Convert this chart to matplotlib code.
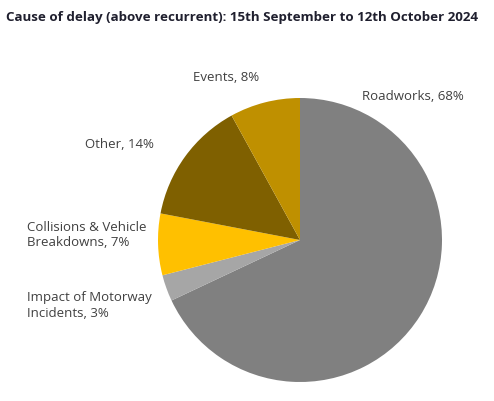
import matplotlib
matplotlib.use("Agg")
import matplotlib.pyplot as plt

# Cause of delay shares (percent), clockwise from 12 o'clock
causes = ['Roadworks', 'Impact of Motorway\nIncidents', 'Collisions & Vehicle\nBreakdowns', 'Other', 'Events']
shares = [68, 3, 7, 14, 8]
colours = ['#808080', '#A6A6A6', '#FFC000', '#7F6000', '#BF9000']

# label anchor (left edge, vertical centre) in pie units
label_pos = [(0.437, 1.014), (-1.923, -0.461), (-1.923, 0.035), (-1.514, 0.676), (-0.754, 1.141)]

plt.rcParams['font.family'] = ['Open Sans', 'DejaVu Sans']

fig = plt.figure(figsize=(4.94, 4.01), dpi=100)
ax = fig.add_axes([0, 0, 1, 1])

ax.pie(shares, colors=colours, startangle=90, counterclock=False, radius=1.0,
       center=(0, 0), wedgeprops=dict(linewidth=0))

for name, val, (x, y) in zip(causes, shares, label_pos):
    ax.text(x, y, '%s, %d%%' % (name, val), ha='left', va='center',
            fontsize=9.5, color='#404040', linespacing=1.25)

ax.set_xlim(-300 / 142.0, 194 / 142.0)
ax.set_ylim(-161 / 142.0, 240 / 142.0)
ax.set_aspect('auto')
ax.axis('off')

fig.text(6 / 494.0, 1 - 17 / 401.0, 'Cause of delay (above recurrent): 15th September to 12th October 2024',
         ha='left', va='center', fontsize=9.6, fontweight='bold', color='#1F1F2E')

fig.savefig('out.png', dpi=100)
